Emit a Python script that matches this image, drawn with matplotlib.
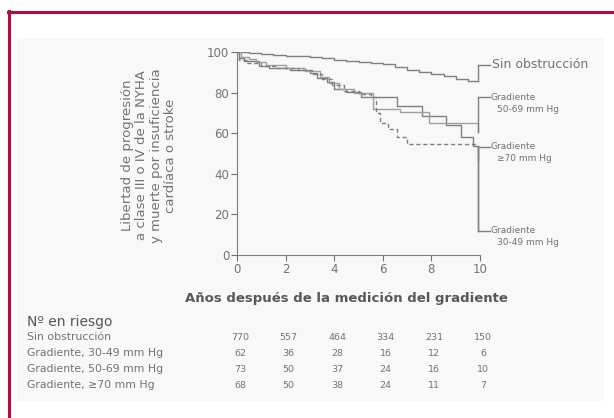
import matplotlib

matplotlib.use("Agg")
import matplotlib.pyplot as plt
import matplotlib.transforms as mtransforms
from matplotlib.patches import Rectangle

plt.rcParams["font.family"] = ["DejaVu Sans"]

GRAY = "#7f7f7f"
TEXT = "#727272"
RED = "#b80a3c"

# curves (years, % free of event)
sin_t = [0, 0.5, 1, 1.5, 2, 2.5, 3, 3.5, 4, 4.5, 5, 5.5, 6, 6.5, 7, 7.5, 8, 8.5, 9, 9.5, 9.9]
sin_y = [100, 99.5, 99, 98.6, 98.2, 97.8, 97.3, 96.8, 96.3, 95.8, 95.2, 94.7, 94, 92.6, 91.2, 90.1, 89, 88, 86.6, 85.9, 85.7]

g3049_t = [0, 0.1, 0.3, 0.9, 1.3, 2.2, 3.0, 3.3, 3.7, 4.0, 4.5, 5.1, 6.6, 7.6, 8.6, 9.2, 9.7, 9.9, 9.9]
g3049_y = [100, 97, 95.5, 93, 92, 91, 89.5, 87, 85, 82, 80.5, 78, 73.5, 68.3, 64, 58, 53.7, 53.7, 12]

g5069_t = [0, 0.15, 0.5, 0.8, 1.2, 2.0, 2.8, 3.4, 3.8, 4.2, 4.8, 5.6, 6.7, 7.9, 9.9, 9.9]
g5069_y = [100, 97.5, 96.5, 95, 93.5, 92, 90.5, 87.5, 84.5, 82, 80, 72, 70.5, 65, 64, 60.5]

g70_t = [0, 0.1, 0.4, 1.0, 1.6, 2.5, 3.1, 3.5, 3.9, 4.4, 5.0, 5.5, 5.7, 5.9, 6.2, 6.6, 7.0, 9.9]
g70_y = [100, 96, 94.5, 93, 92, 91, 89, 86.5, 83.5, 81, 79.5, 78, 70, 65, 62, 58, 54.5, 54.5]

x_ticks = [0, 2, 4, 6, 8, 10]
y_ticks = [0, 20, 40, 60, 80, 100]

risk_groups = ["Sin obstrucción", "Gradiente, 30-49 mm Hg", "Gradiente, 50-69 mm Hg", "Gradiente, \u226570 mm Hg"]
risk_sin = [770, 557, 464, 334, 231, 150]
risk_3049 = [62, 36, 28, 16, 12, 6]
risk_5069 = [73, 50, 37, 24, 16, 10]
risk_70 = [68, 50, 38, 24, 11, 7]

fig = plt.figure(figsize=(6.14, 4.18), dpi=100)
fig.patches.append(Rectangle((17 / 614, 1 - 401 / 418), 587 / 614, 363 / 418,
                             transform=fig.transFigure, facecolor="#f8f8f8", edgecolor="none", zorder=-10))
fig.add_artist(plt.Line2D([8 / 614, 1], [1 - 12 / 418] * 2, color=RED, linewidth=2.2, transform=fig.transFigure))
fig.add_artist(plt.Line2D([9 / 614] * 2, [0, 1 - 11 / 418], color=RED, linewidth=2.2, transform=fig.transFigure))

ax = fig.add_axes([237 / 614, 1 - 255 / 418, 243 / 614, 203 / 418])
ax.patch.set_visible(False)
ax.step(sin_t, sin_y, where="post", color=GRAY, linewidth=1.0)
ax.step(g3049_t, g3049_y, where="post", color=GRAY, linewidth=1.0)
ax.step(g5069_t, g5069_y, where="post", color="#a0a0a0", linewidth=1.0)
ax.step(g70_t, g70_y, where="post", color=GRAY, linewidth=1.0, linestyle=(0, (3, 2)))

ax.set_xlim(0, 10)
ax.set_ylim(0, 100)
ax.set_xticks(x_ticks)
ax.set_yticks(y_ticks)
for side in ("top", "right"):
    ax.spines[side].set_visible(False)
for side in ("left", "bottom"):
    ax.spines[side].set_color(GRAY)
ax.tick_params(colors=TEXT, labelsize=8.5, length=4, width=0.8, pad=1.5)
ax.set_xlabel("Años después de la medición del gradiente", fontsize=9.5, fontweight="bold",
              color="#585858")
ax.xaxis.set_label_coords(0.45, -0.18)
ax.set_ylabel("Libertad de progresión\na clase III o IV de la NYHA\ny muerte por insuficiencia\ncardíaca o stroke",
              fontsize=9.5, color=TEXT, linespacing=1.15)
ax.yaxis.set_label_coords(-0.245, 0.49)

# end-of-curve brackets and labels
brackets = [
    (93.6, 85.7, 93.6, "Sin obstrucción", None),
    (77.8, 60.5, 77.8, "Gradiente", "50-69 mm Hg"),
    (53.4, 47.0, 53.4, "Gradiente", "\u226570 mm Hg"),
    (53.7, 12.0, 12.0, "Gradiente", "30-49 mm Hg"),
]
for top, bottom, lab_y, first, second in brackets:
    ax.plot([9.9, 9.9], [bottom, top], color=GRAY, linewidth=1.0, clip_on=False)
    ax.plot([9.9, 10.4], [lab_y, lab_y], color=GRAY, linewidth=1.0, clip_on=False)
    if second is None:
        ax.text(10.5, lab_y, first, fontsize=9, color=TEXT, va="center", ha="left")
    else:
        ax.text(10.45, lab_y, first, fontsize=6.5, color=TEXT, va="center", ha="left")
        ax.text(10.7, lab_y - 6, second, fontsize=6.5, color=TEXT, va="center", ha="left")

# number at risk table
blend = mtransforms.blended_transform_factory(ax.transData, fig.transFigure)
fig.text(27 / 614, 1 - 322 / 418, "N\u00ba en riesgo", fontsize=10, color="#555555", va="center")
rows = [risk_sin, risk_3049, risk_5069, risk_70]
row_y = [337, 353, 369, 385]
for name, vals, py in zip(risk_groups, rows, row_y):
    fig.text(27 / 614, 1 - py / 418, name, fontsize=7.8, color=TEXT, va="center")
    for xv, v in zip(x_ticks, vals):
        ax.text(xv + 0.12, 1 - py / 418, str(v), fontsize=6.8, color=TEXT, va="center", ha="center",
                transform=blend, clip_on=False)

fig.savefig("out.png", dpi=100)
